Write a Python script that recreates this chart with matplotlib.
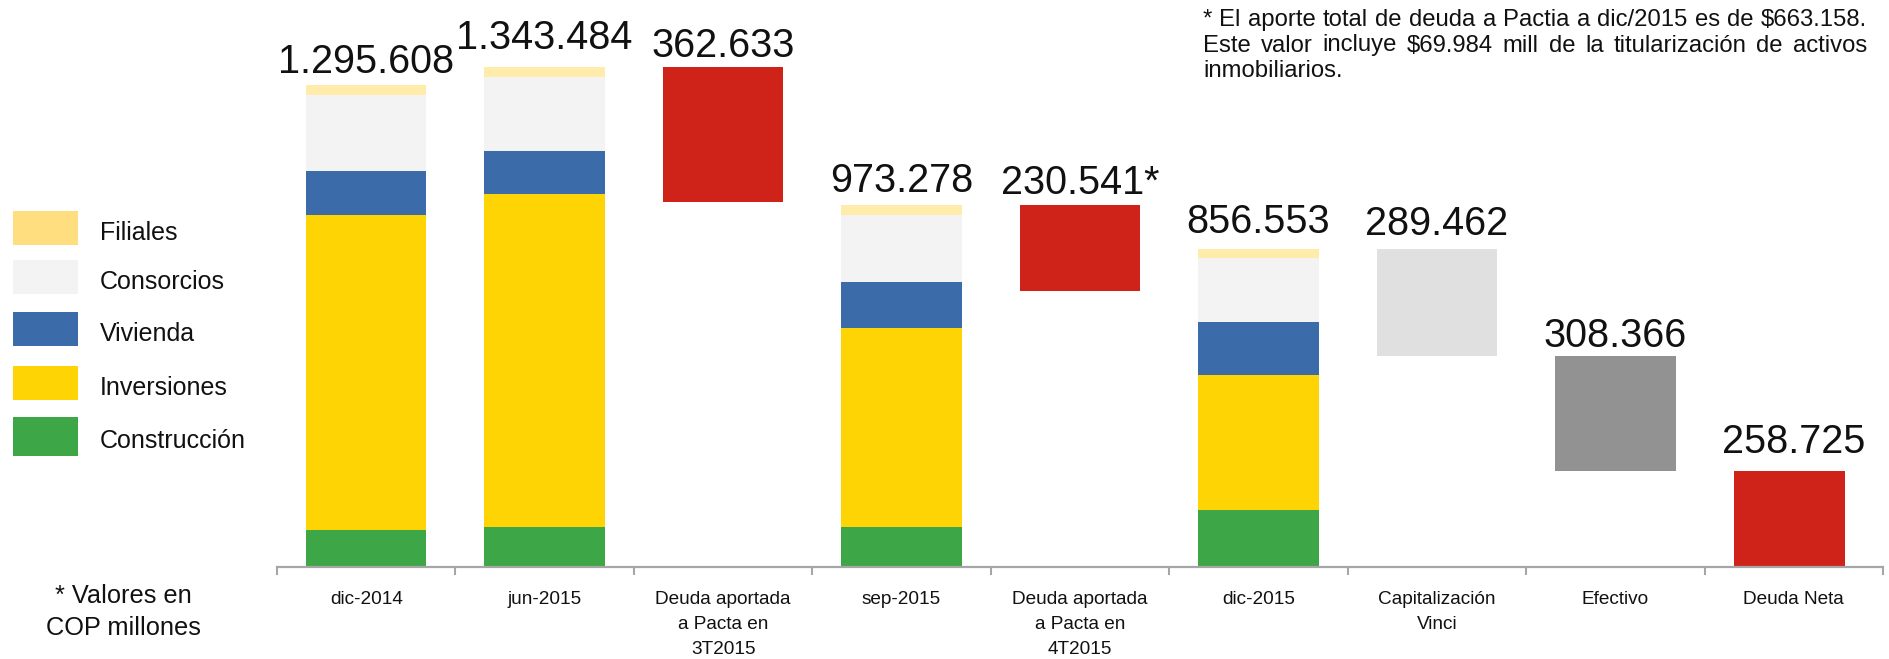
import matplotlib
matplotlib.use("Agg")
import matplotlib.pyplot as plt
from matplotlib import font_manager
from matplotlib.patches import Rectangle
import numpy as np

# categories on the x axis
categories = ["dic-2014", "jun-2015", "Deuda aportada\na Pacta en\n3T2015", "sep-2015",
              "Deuda aportada\na Pacta en\n4T2015", "dic-2015", "Capitalización\nVinci",
              "Efectivo", "Deuda Neta"]

# stacked balances (COP millones) for dic-2014, jun-2015, sep-2015, dic-2015
construccion = [99500, 108000, 107600, 153000]
inversiones = [847000, 894000, 536000, 364000]
vivienda = [118000, 118000, 124000, 143000]
consorcios = [204000, 197000, 180000, 170000]
filiales = [27108, 26484, 25678, 26553]

# bridge steps
deuda_3t2015 = 362633
deuda_4t2015 = 230541
capitalizacion_vinci = 289462
efectivo = 308366

legend_names = ["Filiales", "Consorcios", "Vivienda", "Inversiones", "Construcción"]
label_marks = ["", "", "", "", "*", "", "", "", ""]

note_lines = ["* El aporte total de deuda a Pactia a dic/2015 es de $663.158.",
              "Este valor incluye $69.984 mill de la titularización de activos",
              "inmobiliarios."]

# colours
c_fil = "#FFEBAA"
c_fil_leg = "#FFDE80"
c_con = "#F3F3F3"
c_viv = "#3B6BA9"
c_inv = "#FFD405"
c_cons = "#3DA646"
c_red = "#CF2218"
c_lgray = "#E0E0E0"
c_dgray = "#929292"
c_axis = "#A6A6A6"

available = {f.name for f in font_manager.fontManager.ttflist}
has_narrow = "Liberation Sans Narrow" in available
narrow = "Liberation Sans Narrow" if has_narrow else "Liberation Sans"
plt.rcParams['font.family'] = ['Liberation Sans', 'DejaVu Sans']

W, H = 1890, 659
fig = plt.figure(figsize=(W / 100, H / 100), dpi=100)
ax = fig.add_axes([277 / W, (H - 567) / H, 1606 / W, 567 / H])

x = np.arange(len(categories))
stack_idx = [0, 1, 3, 5]
bw = 0.675

tot = np.array(construccion) + np.array(inversiones) + np.array(vivienda) + np.array(consorcios) + np.array(filiales)
deuda_neta = tot[3] - capitalizacion_vinci - efectivo

bottom = np.zeros(4)
for vals, col in zip([construccion, inversiones, vivienda, consorcios, filiales],
                     [c_cons, c_inv, c_viv, c_con, c_fil]):
    ax.bar(x[stack_idx], vals, bw, bottom=bottom, color=col, linewidth=0)
    bottom += np.array(vals)

ax.bar(x[2], deuda_3t2015, bw, bottom=tot[1] - deuda_3t2015, color=c_red, linewidth=0)
ax.bar(x[4], deuda_4t2015, bw, bottom=tot[2] - deuda_4t2015, color=c_red, linewidth=0)
ax.bar(x[6], capitalizacion_vinci, bw, bottom=tot[3] - capitalizacion_vinci, color=c_lgray, linewidth=0)
ax.bar(x[7], efectivo, bw, bottom=tot[3] - capitalizacion_vinci - efectivo, color=c_dgray, linewidth=0)
ax.bar(x[8] - bw / 2, deuda_neta, 0.625, color=c_red, linewidth=0, align='edge')

values = [tot[0], tot[1], deuda_3t2015, tot[2], deuda_4t2015, tot[3], capitalizacion_vinci, efectivo, deuda_neta]
tops = [tot[0], tot[1], tot[1], tot[2], tot[2], tot[3], tot[3], tot[3] - capitalizacion_vinci, deuda_neta]
gaps = [8.6, 13, 7.2, 9.4, 7.9, 11.5, 9.4, 6.5, 13]
for i in range(len(values)):
    txt = "{:,}".format(int(round(values[i]))).replace(",", ".") + label_marks[i]
    ax.annotate(txt, (x[i], tops[i]), xytext=(0, gaps[i]), textcoords='offset points',
                ha='center', va='baseline', fontsize=28.5, color='#111111', annotation_clip=False)

ax.set_xlim(-0.5, 8.5)
ax.set_ylim(0, 1525000)
for s in ['left', 'right', 'top']:
    ax.spines[s].set_visible(False)
ax.spines['bottom'].set_color(c_axis)
ax.spines['bottom'].set_linewidth(1.6)
ax.set_yticks([])
ax.set_xticks(x)
ax.set_xticklabels(categories, fontfamily=narrow, fontsize=16.5 if has_narrow else 13.7,
                   linespacing=1.25 if has_narrow else 1.62, color='#111111')
ax.set_xticks(np.arange(-0.5, 9, 1), minor=True)
ax.tick_params(axis='x', which='major', length=0, pad=17)
ax.tick_params(axis='x', which='minor', length=5.8, width=1.5, color=c_axis, direction='out')
ax.patch.set_alpha(0)

# legend on the left
leg_cols = [c_fil_leg, c_con, c_viv, c_inv, c_cons]
leg_y = [(211, 245), (260, 294), (312, 346), (366, 400), (417, 456)]
for name, col, (y0, y1) in zip(legend_names, leg_cols, leg_y):
    fig.patches.append(Rectangle((13 / W, 1 - y1 / H), 65 / W, (y1 - y0) / H,
                                 transform=fig.transFigure, color=col, linewidth=0))
    fig.text(100 / W, 1 - ((y0 + y1) / 2 + 5) / H, name, fontsize=18, va='center', ha='left',
             color='#111111')

fig.text(123 / W, 1 - 612 / H, "* Valores en\nCOP millones", fontfamily=narrow,
         fontsize=21 if has_narrow else 18.3, ha='center', va='center',
         linespacing=1.15 if has_narrow else 1.4, color='#111111')

# justified note, top right
renderer = fig.canvas.get_renderer()
x0, x1 = 1203, 1867
line_y = [20, 45.5, 71]
for i, line in enumerate(note_lines):
    yf = 1 - line_y[i] / H
    if i == len(note_lines) - 1:
        fig.text(x0 / W, yf, line, fontsize=17.2, va='center', ha='left', color='#111111')
        continue
    words = line.split(" ")
    texts = [fig.text(0, yf, w, fontsize=17.2, va='center', ha='left', color='#111111') for w in words]
    widths = [t.get_window_extent(renderer).width for t in texts]
    gap = (x1 - x0 - sum(widths)) / (len(words) - 1)
    xp = x0
    for t, wd in zip(texts, widths):
        t.set_x(xp / W)
        xp += wd + gap

fig.savefig("out.png", dpi=100)
